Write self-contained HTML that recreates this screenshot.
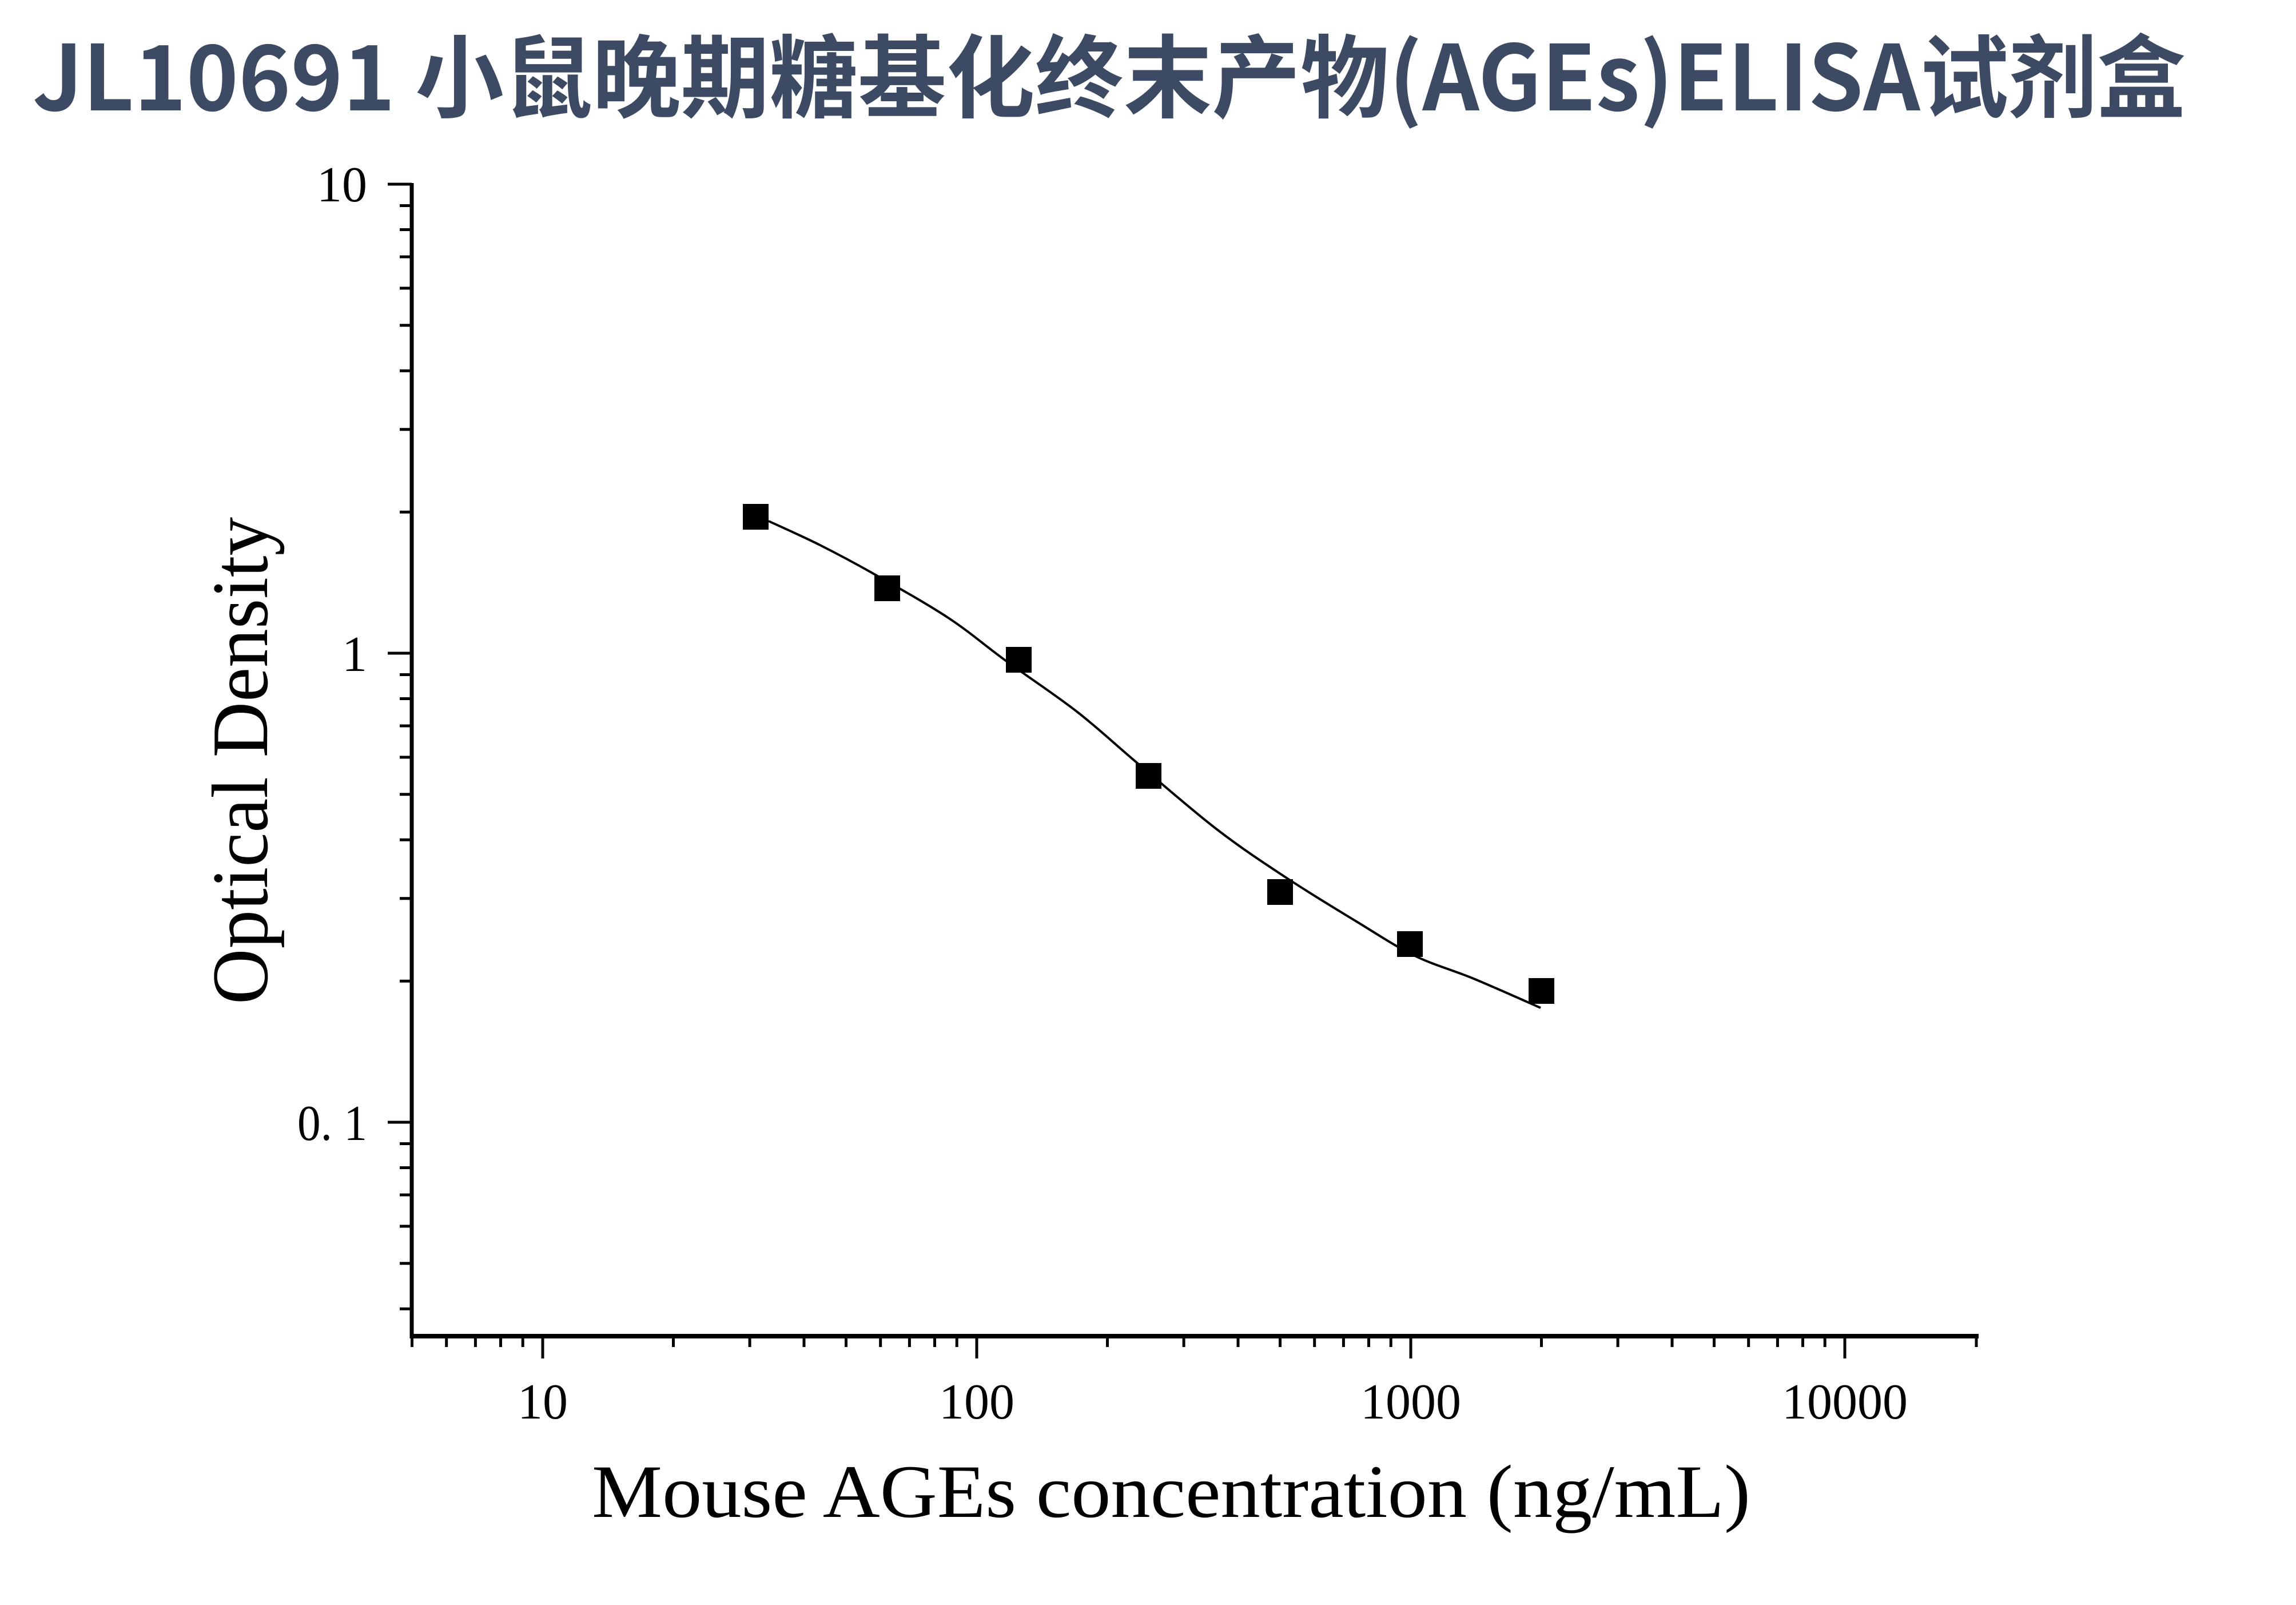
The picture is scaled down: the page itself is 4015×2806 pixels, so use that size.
<!DOCTYPE html>
<html><head><meta charset="utf-8"><style>
html,body{margin:0;padding:0;background:#fff;}
svg{display:block;}
</style></head><body>
<svg xmlns="http://www.w3.org/2000/svg" width="4015" height="2806" viewBox="0 0 4015 2806">
<rect width="4015" height="2806" fill="#fff"/>
<text x="57" y="193" font-family="'Noto Sans CJK SC','WenQuanYi Zen Hei',sans-serif" font-weight="bold" font-size="158" fill="#3d4a63" textLength="3765" lengthAdjust="spacingAndGlyphs">JL10691 小鼠晚期糖基化终末产物(AGEs)ELISA试剂盒</text>
<g stroke="#000" fill="none">
<line x1="720" y1="320" x2="720" y2="2340" stroke-width="7"/>
<line x1="717" y1="2336" x2="3460" y2="2336" stroke-width="8"/>
<g stroke-width="5">
<line x1="678" y1="322" x2="720" y2="322"/>
<line x1="699" y1="359.5" x2="720" y2="359.5"/>
<line x1="699" y1="401.5" x2="720" y2="401.5"/>
<line x1="699" y1="449" x2="720" y2="449"/>
<line x1="699" y1="503.9" x2="720" y2="503.9"/>
<line x1="699" y1="568.8" x2="720" y2="568.8"/>
<line x1="699" y1="648.3" x2="720" y2="648.3"/>
<line x1="699" y1="750.8" x2="720" y2="750.8"/>
<line x1="699" y1="895.2" x2="720" y2="895.2"/>
<line x1="678" y1="1142" x2="720" y2="1142"/>
<line x1="699" y1="1179.5" x2="720" y2="1179.5"/>
<line x1="699" y1="1221.5" x2="720" y2="1221.5"/>
<line x1="699" y1="1269" x2="720" y2="1269"/>
<line x1="699" y1="1323.9" x2="720" y2="1323.9"/>
<line x1="699" y1="1388.8" x2="720" y2="1388.8"/>
<line x1="699" y1="1468.3" x2="720" y2="1468.3"/>
<line x1="699" y1="1570.8" x2="720" y2="1570.8"/>
<line x1="699" y1="1715.2" x2="720" y2="1715.2"/>
<line x1="678" y1="1962" x2="720" y2="1962"/>
<line x1="699" y1="1999.5" x2="720" y2="1999.5"/>
<line x1="699" y1="2041.5" x2="720" y2="2041.5"/>
<line x1="699" y1="2089" x2="720" y2="2089"/>
<line x1="699" y1="2143.9" x2="720" y2="2143.9"/>
<line x1="699" y1="2208.8" x2="720" y2="2208.8"/>
<line x1="699" y1="2288.3" x2="720" y2="2288.3"/>
</g>
<g stroke-width="5">
<line x1="720.5" y1="2336" x2="720.5" y2="2355"/>
<line x1="780.7" y1="2336" x2="780.7" y2="2355"/>
<line x1="831.4" y1="2336" x2="831.4" y2="2355"/>
<line x1="875.5" y1="2336" x2="875.5" y2="2355"/>
<line x1="914.2" y1="2336" x2="914.2" y2="2355"/>
<line x1="949" y1="2336" x2="949" y2="2375"/>
<line x1="1177.5" y1="2336" x2="1177.5" y2="2355"/>
<line x1="1311.1" y1="2336" x2="1311.1" y2="2355"/>
<line x1="1406" y1="2336" x2="1406" y2="2355"/>
<line x1="1479.5" y1="2336" x2="1479.5" y2="2355"/>
<line x1="1539.7" y1="2336" x2="1539.7" y2="2355"/>
<line x1="1590.4" y1="2336" x2="1590.4" y2="2355"/>
<line x1="1634.5" y1="2336" x2="1634.5" y2="2355"/>
<line x1="1673.2" y1="2336" x2="1673.2" y2="2355"/>
<line x1="1708" y1="2336" x2="1708" y2="2375"/>
<line x1="1936.5" y1="2336" x2="1936.5" y2="2355"/>
<line x1="2070.1" y1="2336" x2="2070.1" y2="2355"/>
<line x1="2165" y1="2336" x2="2165" y2="2355"/>
<line x1="2238.5" y1="2336" x2="2238.5" y2="2355"/>
<line x1="2298.7" y1="2336" x2="2298.7" y2="2355"/>
<line x1="2349.4" y1="2336" x2="2349.4" y2="2355"/>
<line x1="2393.5" y1="2336" x2="2393.5" y2="2355"/>
<line x1="2432.2" y1="2336" x2="2432.2" y2="2355"/>
<line x1="2467" y1="2336" x2="2467" y2="2375"/>
<line x1="2695.5" y1="2336" x2="2695.5" y2="2355"/>
<line x1="2829.1" y1="2336" x2="2829.1" y2="2355"/>
<line x1="2924" y1="2336" x2="2924" y2="2355"/>
<line x1="2997.5" y1="2336" x2="2997.5" y2="2355"/>
<line x1="3057.7" y1="2336" x2="3057.7" y2="2355"/>
<line x1="3108.4" y1="2336" x2="3108.4" y2="2355"/>
<line x1="3152.5" y1="2336" x2="3152.5" y2="2355"/>
<line x1="3191.2" y1="2336" x2="3191.2" y2="2355"/>
<line x1="3226" y1="2336" x2="3226" y2="2375"/>
<line x1="3456" y1="2336" x2="3456" y2="2355"/>
</g>
<path stroke-width="4" d="M1344,911 C1359,918 1402.8,937.3 1434,953 C1465.2,968.7 1493.7,983.8 1531,1005 C1568.3,1026.2 1619.8,1054.8 1658,1080 C1696.2,1105.2 1722.5,1128.7 1760,1156 C1797.5,1183.3 1844.7,1214.2 1883,1244 C1921.3,1273.8 1949.2,1300.7 1990,1335 C2030.8,1369.3 2084.7,1416.7 2128,1450 C2171.3,1483.3 2209.3,1508.2 2250,1535 C2290.7,1561.8 2334.7,1588.3 2372,1611 C2409.3,1633.7 2439.8,1654.3 2474,1671 C2508.2,1687.7 2540.3,1695.8 2577,1711 C2613.7,1726.2 2674.5,1753.5 2694,1762"/>
</g>
<g fill="#000">
<rect x="1299" y="881" width="45" height="45"/>
<rect x="1529" y="1006" width="45" height="45"/>
<rect x="1759" y="1131" width="45" height="45"/>
<rect x="1986" y="1334" width="45" height="45"/>
<rect x="2216" y="1537" width="45" height="45"/>
<rect x="2443" y="1628" width="45" height="45"/>
<rect x="2673" y="1710" width="45" height="45"/>
</g>
<g font-family="'Liberation Serif',serif" fill="#000">
<text x="642" y="352" font-size="88" text-anchor="end">10</text>
<text x="642" y="1173" font-size="88" text-anchor="end">1</text>
<text x="642" y="1993" font-size="88" text-anchor="end" textLength="122" lengthAdjust="spacingAndGlyphs">0. 1</text>
<text x="949" y="2480" font-size="88" text-anchor="middle">10</text>
<text x="1708" y="2480" font-size="88" text-anchor="middle">100</text>
<text x="2467" y="2480" font-size="88" text-anchor="middle">1000</text>
<text x="3226" y="2480" font-size="88" text-anchor="middle">10000</text>
<text x="2048" y="2652" font-size="132" text-anchor="middle" textLength="2026" lengthAdjust="spacingAndGlyphs">Mouse AGEs concentration (ng/mL)</text>
<text transform="translate(467,1330) rotate(-90)" x="0" y="0" font-size="140" text-anchor="middle" textLength="852" lengthAdjust="spacingAndGlyphs">Optical Density</text>
</g>
</svg>
</body></html>
